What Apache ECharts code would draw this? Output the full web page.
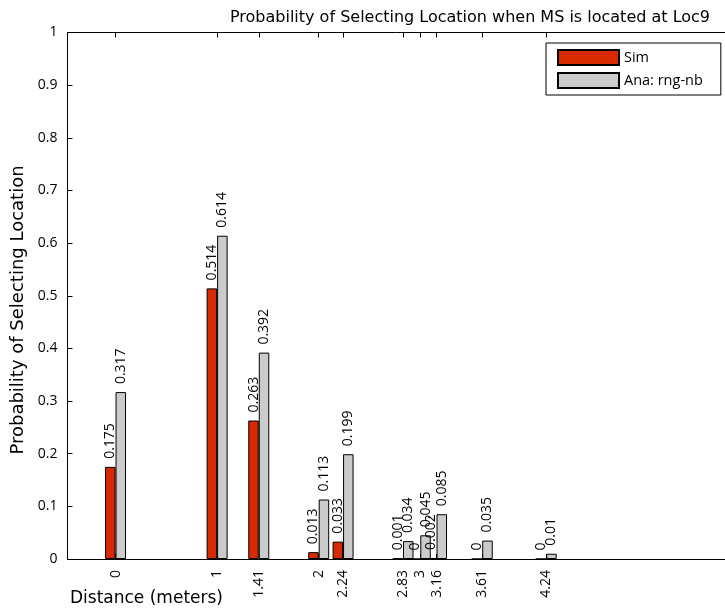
<!DOCTYPE html>
<html>
<head>
<meta charset="utf-8">
<script src="https://cdn.jsdelivr.net/npm/echarts@6/dist/echarts.min.js"></script>
<style>html,body{margin:0;padding:0;background:#fff;}#c{width:725px;height:613px;}</style>
</head>
<body>
<div id="c"></div>
<script>
const distances = [0, 1, 1.41, 2, 2.24, 2.83, 3, 3.16, 3.61, 4.24];
const distanceLabels = ['0', '1', '1.41', '2', '2.24', '2.83', '3', '3.16', '3.61', '4.24'];
const simValues = [0.175, 0.514, 0.263, 0.013, 0.033, 0.001, 0, 0.002, 0, 0];
const anaValues = [0.317, 0.614, 0.392, 0.113, 0.199, 0.034, 0.045, 0.085, 0.035, 0.01];

const FONT = 'Open Sans';
const BIG = 'DejaVu Sans';
const chart = echarts.init(document.getElementById('c'), null, {renderer: 'canvas'});

const labelCfg = {
  show: true, position: 'top', rotate: 90, align: 'left', verticalAlign: 'middle',
  distance: 8, fontFamily: FONT, fontSize: 14, color: '#000',
  formatter: p => String(p.value[1])
};

chart.setOption({
  animation: false,
  backgroundColor: '#fff',
  title: {
    text: 'Probability of Selecting Location when MS is located at Loc9',
    left: 465, top: 5, textAlign: 'center',
    textStyle: {fontFamily: BIG, fontSize: 16, fontWeight: 'normal', color: '#000'}
  },
  graphic: [{
    type: 'text', left: 70, top: 590,
    style: {text: 'Distance (meters)', fontFamily: BIG, fontSize: 17, fill: '#000'}
  }, {
    type: 'text', x: 18, y: 310, rotation: Math.PI / 2,
    style: {text: 'Probability of Selecting Location', fontFamily: BIG, fontSize: 18,
      fill: '#000', align: 'center', verticalAlign: 'middle'}
  }],
  legend: {
    orient: 'vertical', left: 546, top: 43,
    icon: 'rect',
    itemWidth: 61, itemHeight: 15, itemGap: 6,
    padding: [6, 18, 6, 11],
    borderColor: '#000', borderWidth: 1, backgroundColor: '#fff',
    textStyle: {fontFamily: FONT, fontSize: 14.5, color: '#000'},
    data: ['Sim', 'Ana: rng-nb']
  },
  grid: {left: 67.5, top: 32.5, bottom: 54, right: -6},
  xAxis: [{
    type: 'value', min: -0.473, max: 6, position: 'bottom',
    axisLine: {show: true, onZero: false, lineStyle: {color: '#000', width: 1}},
    axisTick: {show: true, inside: true, length: 5, customValues: distances, lineStyle: {color: '#000'}},
    axisLabel: {show: true, customValues: distances, rotate: 90, margin: 11,
      fontFamily: FONT, fontSize: 14, color: '#000',
      formatter: v => distanceLabels[distances.indexOf(v)] ?? String(v)},
    splitLine: {show: false}
  }, {
    type: 'value', min: -0.473, max: 6, position: 'top',
    axisLine: {show: true, onZero: false, lineStyle: {color: '#000', width: 1}},
    axisTick: {show: true, inside: true, length: 5, customValues: distances, lineStyle: {color: '#000'}},
    axisLabel: {show: false},
    splitLine: {show: false}
  }],
  yAxis: {
    type: 'value', min: 0, max: 1, interval: 0.1,
    axisLine: {show: true, onZero: false, lineStyle: {color: '#000', width: 1}},
    axisTick: {show: true, inside: true, length: 5, lineStyle: {color: '#000'}},
    axisLabel: {fontFamily: FONT, fontSize: 14, color: '#000', margin: 10,
      formatter: v => String(Math.round(v * 10) / 10)},
    splitLine: {show: false}
  },
  series: [{
    name: 'Sim', type: 'bar', xAxisIndex: 0,
    barWidth: 10.5, barGap: '0%',
    itemStyle: {color: '#D82A00', borderColor: '#000', borderWidth: 1},
    label: labelCfg,
    data: distances.map((d, i) => [d, simValues[i]])
  }, {
    name: 'Ana: rng-nb', type: 'bar', xAxisIndex: 0,
    barWidth: 10.5, barGap: '0%',
    itemStyle: {color: '#CBCBCB', borderColor: '#000', borderWidth: 1},
    label: labelCfg,
    data: distances.map((d, i) => [d, anaValues[i]])
  }]
});
</script>
</body>
</html>
